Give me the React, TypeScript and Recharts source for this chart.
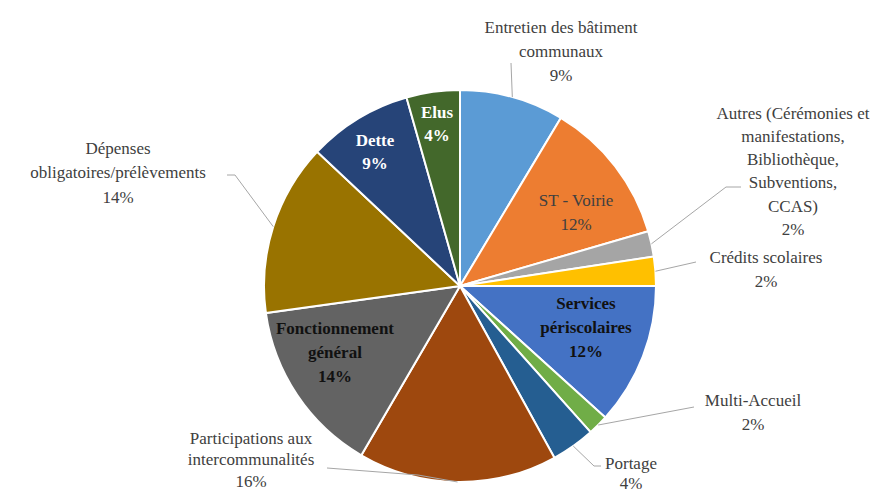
import { PieChart, Pie, Cell } from 'recharts'

const categories = [
  'Entretien des bâtiment communaux',
  'ST - Voirie',
  'Autres (Cérémonies et manifestations, Bibliothèque, Subventions, CCAS)',
  'Crédits scolaires',
  'Services périscolaires',
  'Multi-Accueil',
  'Portage',
  'Participations aux intercommunalités',
  'Fonctionnement général',
  'Dépenses obligatoires/prélèvements',
  'Dette',
  'Elus',
]

const shares = [8.6, 11.9, 2.1, 2.4, 11.7, 1.7, 3.6, 16.4, 14.4, 14.2, 8.6, 4.4]

const labelLines = [
  ['Entretien des bâtiment', 'communaux'],
  ['ST - Voirie'],
  ['Autres (Cérémonies et', 'manifestations,', 'Bibliothèque,', 'Subventions,', 'CCAS)'],
  ['Crédits scolaires'],
  ['Services', 'périscolaires'],
  ['Multi-Accueil'],
  ['Portage'],
  ['Participations aux', 'intercommunalités'],
  ['Fonctionnement', 'général'],
  ['Dépenses', 'obligatoires/prélèvements'],
  ['Dette'],
  ['Elus'],
]

const colors = [
  '#5B9BD5', '#ED7D31', '#A5A5A5', '#FFC000', '#4472C4', '#70AD47',
  '#255E91', '#9E480E', '#636363', '#997300', '#264478', '#43682B',
]

const data = categories.map((name, i) => ({ name, value: shares[i] }))

const FONT = '"Liberation Serif", "DejaVu Serif", "Times New Roman", Tinos, serif'

// label placement, offsets from the pie centre
type Layout = {
  x: number
  y: number
  step: number
  fill: string
  bold?: boolean
  line?: [number, number][]
}

const layout: Layout[] = [
  { x: 101, y: -259, step: 24, fill: '#404040', line: [[51, -223]] },
  { x: 116, y: -86, step: 24, fill: '#404040' },
  { x: 333, y: -173, step: 23.3, fill: '#404040', line: [[266, -99], [281, -99]] },
  { x: 306, y: -29, step: 24, fill: '#404040', line: [[236, -24]] },
  { x: 126, y: 17, step: 24, fill: '#111', bold: true },
  { x: 293, y: 114, step: 24, fill: '#404040', line: [[234, 121]] },
  { x: 171, y: 177, step: 20, fill: '#404040', line: [[134, 180], [141, 180]] },
  { x: -209, y: 152, step: 21.5, fill: '#404040', line: [[-42, 189], [-133, 182]] },
  { x: -125, y: 42, step: 24, fill: '#111', bold: true },
  { x: -342, y: -138, step: 24.5, fill: '#404040', line: [[-225, -111], [-233, -111]] },
  { x: -85, y: -146, step: 23, fill: '#fff', bold: true },
  { x: -23, y: -174, step: 23, fill: '#fff', bold: true },
]

const RAD = Math.PI / 180

function renderLabel(props: any) {
  const { cx, cy, midAngle, outerRadius, percent, index } = props
  const l = layout[index]
  const lines = [...labelLines[index], `${Math.round(percent * 100)}%`]
  let path = ''
  if (l.line) {
    const sx = cx + outerRadius * Math.cos(-midAngle * RAD)
    const sy = cy + outerRadius * Math.sin(-midAngle * RAD)
    path = `M${sx},${sy}` + l.line.map(([px, py]) => ` L${cx + px},${cy + py}`).join('')
  }
  return (
    <g key={`lbl-${index}`}>
      {path && <path d={path} stroke="#A6A6A6" strokeWidth={1} fill="none" />}
      <text
        textAnchor="middle"
        fill={l.fill}
        fontFamily={FONT}
        style={{ fontFamily: FONT, fontSize: 17, fontWeight: l.bold ? 'bold' : 'normal' }}
      >
        {lines.map((t, i) => (
          <tspan key={i} x={cx + l.x} y={cy + l.y + i * l.step} dominantBaseline="central">
            {t}
          </tspan>
        ))}
      </text>
    </g>
  )
}

export default function App() {
  return (
    <div style={{ position: 'absolute', left: 0, top: 0, background: '#fff', fontFamily: FONT }}>
      <PieChart width={882} height={492}>
        <Pie
          data={data}
          dataKey="value"
          nameKey="name"
          cx={455}
          cy={281}
          outerRadius={196}
          startAngle={90}
          endAngle={-270}
          stroke="#fff"
          strokeWidth={2}
          label={renderLabel}
          labelLine={false}
          isAnimationActive={false}
        >
          {data.map((d, i) => (
            <Cell key={d.name} fill={colors[i]} />
          ))}
        </Pie>
      </PieChart>
    </div>
  )
}
